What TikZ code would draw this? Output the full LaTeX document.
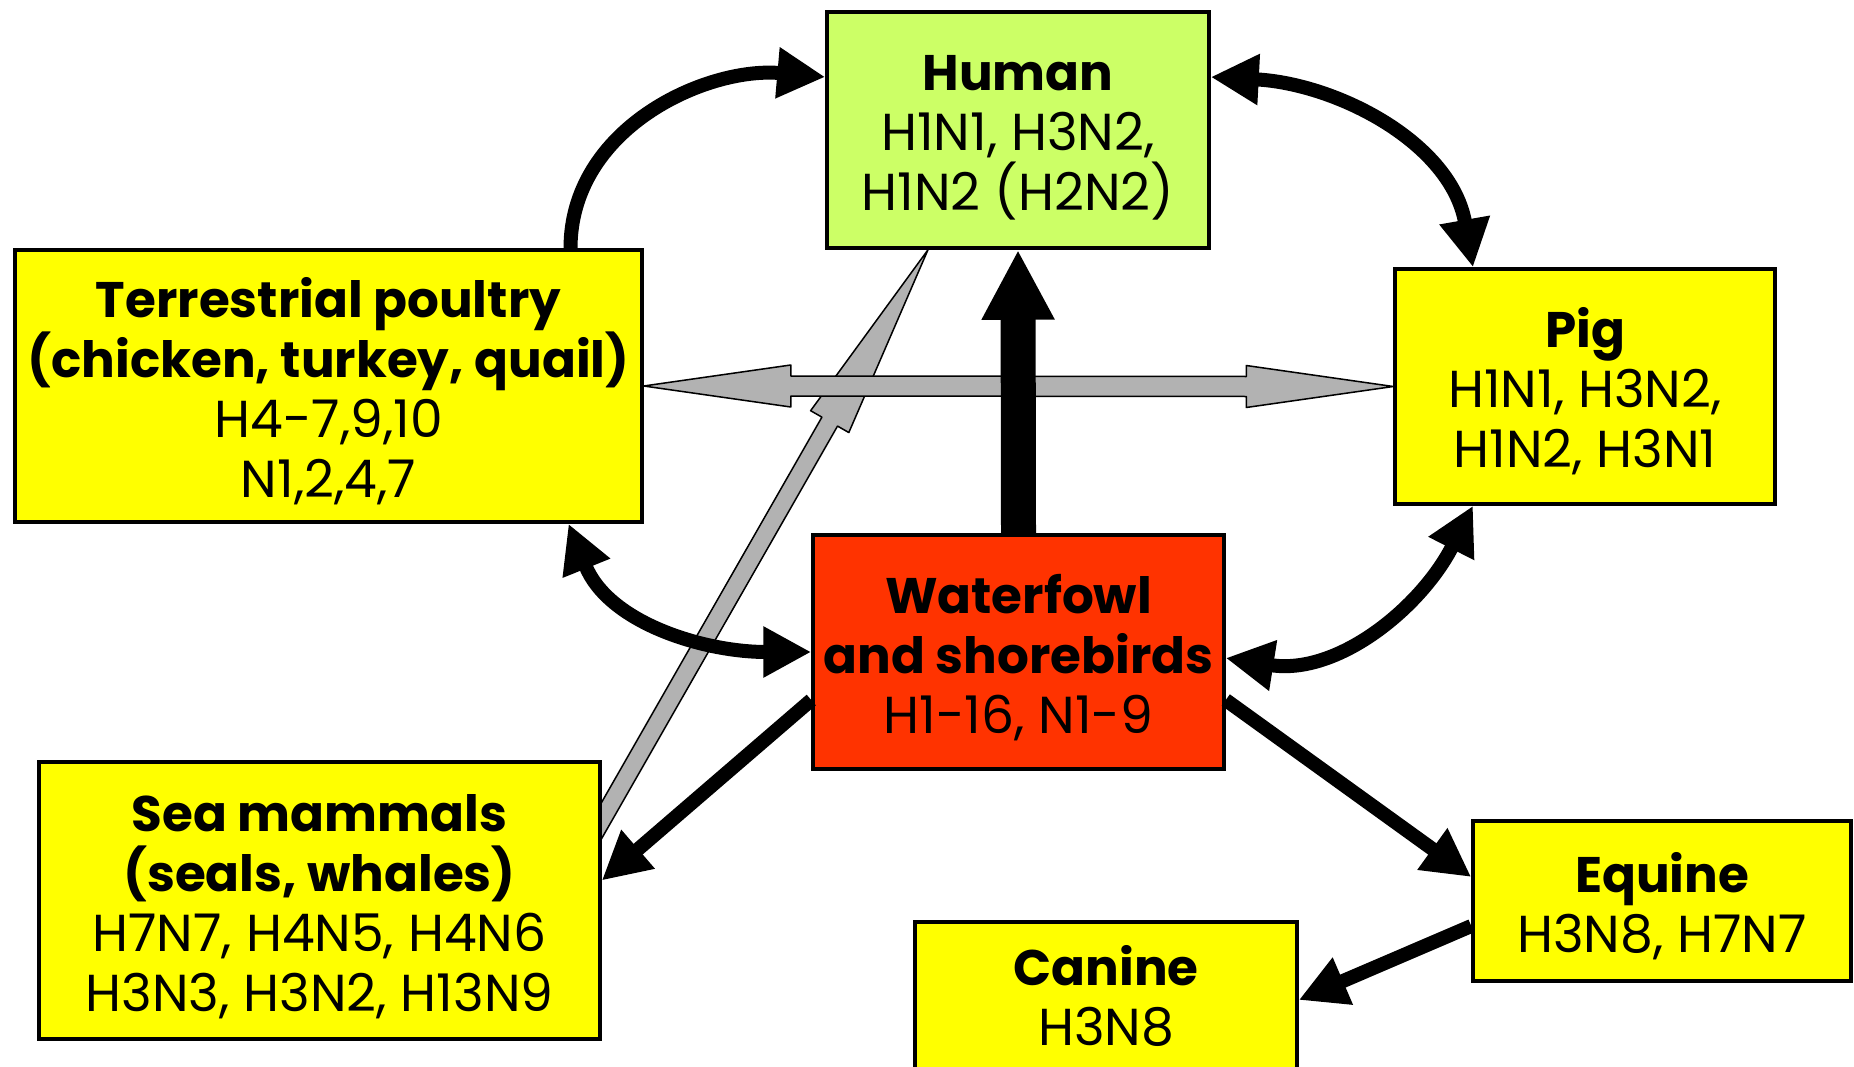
\documentclass[tikz,border=0pt]{standalone}
\usepackage{fontspec}
\setmainfont{Poppins}
\usetikzlibrary{arrows.meta,calc,backgrounds}
\definecolor{hgreen}{HTML}{CCFF66}
\definecolor{byellow}{HTML}{FFFF00}
\definecolor{wred}{HTML}{FF3300}
\definecolor{agray}{HTML}{B2B2B2}
\newcommand{\topstrut}{\rule{0pt}{54pt}}
\newcommand{\botstrut}{\rule[-12pt]{0pt}{0pt}}
\newcommand{\ttl}[1]{{\fontsize{50}{60}\selectfont\bfseries #1}}
\tikzset{
  box/.style={draw=black, line width=3.5pt, rectangle, inner sep=0pt, align=center,
    font=\fontsize{52}{60}\selectfont},
  blk/.style={line width=14pt, -{Triangle[length=48pt,width=48pt]}},
  blktwo/.style={line width=14pt, {Triangle[length=48pt,width=48pt]}-{Triangle[length=48pt,width=48pt]}},
  grayarrow/.style={fill=agray, draw=black, line width=1.5pt, line join=round},
}
\begin{document}
\begin{tikzpicture}[x=1pt,y=1pt]
\useasboundingbox (0,0) rectangle (1854,-1067);

\node[box, fill=hgreen, minimum width=382pt, minimum height=236pt] (human) at (1018,-130)
  {\topstrut\ttl{Human}\\H1N1, H3N2,\\H1N2 (H2N2)\botstrut};
\node[box, fill=byellow, minimum width=627pt, minimum height=272pt] (poultry) at (328.5,-386)
  {\topstrut\ttl{Terrestrial poultry}\\\ttl{(chicken, turkey, quail)}\\H4-7,9,10\\N1,2,4,7\botstrut};
\node[box, fill=byellow, minimum width=380pt, minimum height=235pt] (pig) at (1585,-386.5)
  {\topstrut\ttl{Pig}\\H1N1, H3N2,\\ H1N2, H3N1\botstrut};
\node[box, fill=wred, minimum width=411pt, minimum height=234pt] (waterfowl) at (1018.5,-652)
  {\topstrut\ttl{Waterfowl}\\\ttl{and shorebirds}\\H1-16, N1-9\botstrut};
\node[box, fill=byellow, minimum width=561pt, minimum height=277pt] (sea) at (319.5,-900.5)
  {\topstrut\ttl{Sea mammals}\\\ttl{(seals, whales)}\\H7N7, H4N5, H4N6\\H3N3, H3N2, H13N9\botstrut};
\node[box, fill=byellow, minimum width=378pt, minimum height=160pt] (equine) at (1662,-901)
  {\topstrut\ttl{Equine}\\H3N8, H7N7\botstrut};
\node[box, fill=byellow, minimum width=382pt, minimum height=156pt] (canine) at (1106,-1000)
  {\rule{0pt}{42pt}\ttl{Canine}\\H3N8\botstrut};

\begin{scope}[on background layer]
  \coordinate (T) at ([xshift=-90pt]human.south);
  \coordinate (S) at (579,-860);
  \coordinate (H) at ($(T)!198pt!(S)$);
  \draw[grayarrow] (T) -- ($(H)!22pt!90:(T)$) -- ($(H)!9pt!90:(T)$) -- ($(S)!9pt!90:(T)$)
    -- ($(S)!9pt!-90:(T)$) -- ($(H)!9pt!-90:(T)$) -- ($(H)!22pt!-90:(T)$) -- cycle;
  \coordinate (hl) at (poultry.east);
  \coordinate (hr) at (pig.west);
  \draw[grayarrow] (hl) -- ++(147,21) -- ++(0,-11) -- ($(hr)+(-147,10)$) -- ++(0,11) -- (hr)
    -- ++(-147,-21) -- ++(0,11) -- ($(hl)+(147,-10)$) -- ++(0,-11) -- cycle;
\end{scope}

\draw[blk] ([xshift=242pt]poultry.north) to[out=90,in=175] ([yshift=53pt]human.west);
\draw[blktwo] ([yshift=53pt]human.east) to[out=-3,in=100] ([xshift=-112pt]pig.north);
\draw[blktwo] ([xshift=240pt]poultry.south) to[out=-68,in=180] (waterfowl.west);
\draw[blktwo] ([xshift=-112pt]pig.south) to[out=-117,in=-9] ([yshift=-6pt]waterfowl.east);
\draw[blk] ([yshift=-48pt]waterfowl.west) -- ([yshift=20pt]sea.east);
\draw[blk] ([yshift=-48pt]waterfowl.east) -- ([yshift=24pt]equine.west);
\draw[blk] ([yshift=-25pt]equine.west) -- (canine.east);
\draw[line width=35pt, -{Triangle[length=70pt,width=68pt]}] (waterfowl.north) -- (human.south);
\end{tikzpicture}
\end{document}
